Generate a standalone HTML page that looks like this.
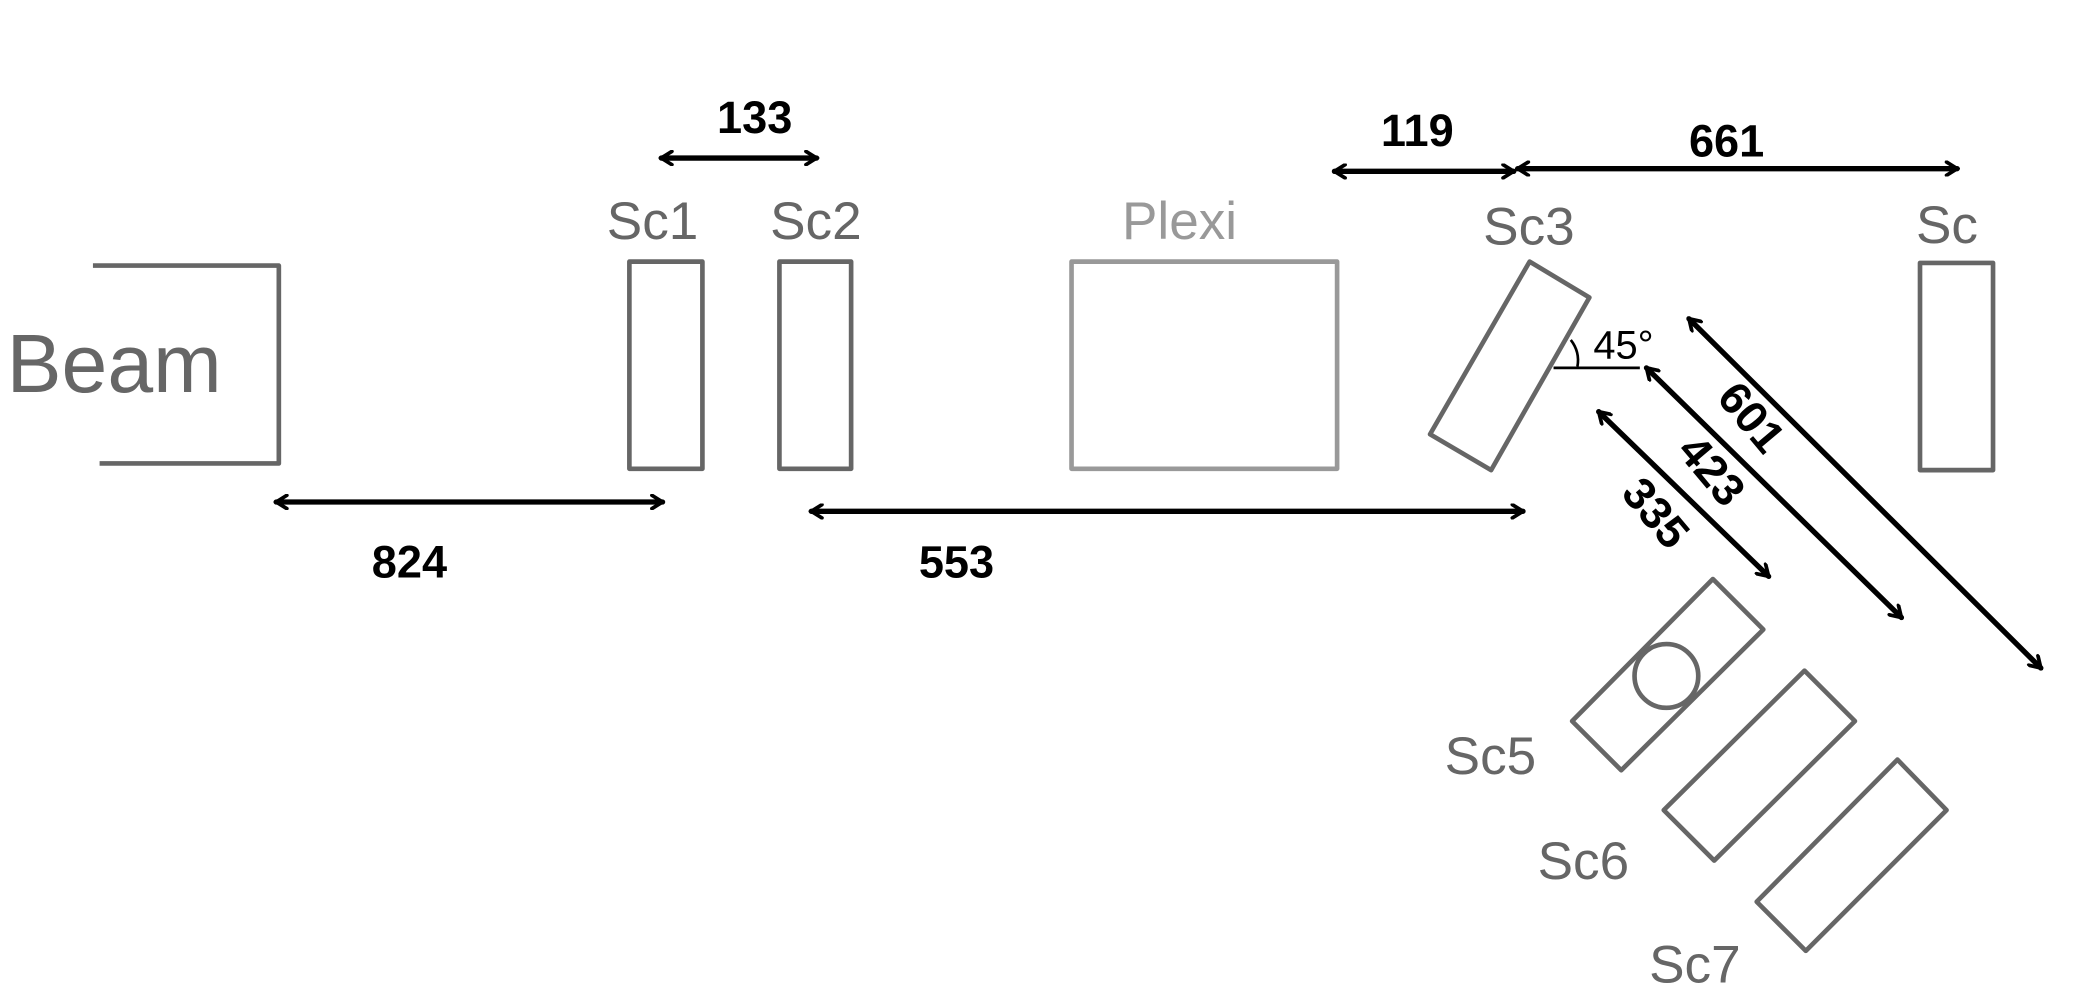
<!DOCTYPE html>
<html><head><meta charset="utf-8"><style>
html,body{margin:0;padding:0;background:#fff;}
svg{display:block;}
text{font-family:"Liberation Sans",sans-serif;}
.g{fill:none;stroke:#666;stroke-width:3.5;stroke-linejoin:round;}
.a{fill:none;stroke:#000;stroke-width:4;stroke-linecap:round;}
.lbl{fill:#666;font-size:40px;}
.num{fill:#000;font-size:34px;font-weight:bold;}
</style></head><body>
<svg width="2082" height="1000" viewBox="0 0 1568 753" preserveAspectRatio="none">
<defs>
<marker id="h" viewBox="0 0 12 12" refX="10" refY="6" markerWidth="12" markerHeight="12" markerUnits="userSpaceOnUse" orient="auto-start-reverse">
<path d="M2,1 L10,6 L2,11" fill="none" stroke="#000" stroke-width="2.8" stroke-linecap="round"/>
</marker>
</defs>
<g>
<polyline class="g" points="70,200 210,200 210,349 75,349"/>
<text x="5" y="295" style="fill:#666;font-size:62px;">Beam</text>
</g>
<g><rect class="g" x="474" y="197" width="55" height="156"/><text class="lbl" x="457" y="180">Sc1</text></g>
<g><rect class="g" x="587" y="197" width="54" height="156"/><text class="lbl" x="580" y="180">Sc2</text></g>
<g><rect class="g" style="stroke:#999" x="807" y="197" width="200" height="156"/><text class="lbl" style="fill:#999" x="845" y="180">Plexi</text></g>
<g><polygon class="g" points="1152,197 1197,224 1123,354 1077,327"/><text class="lbl" x="1117" y="184">Sc3</text></g>
<g><rect class="g" x="1446" y="198" width="55" height="156"/><text class="lbl" x="1443" y="183">Sc</text></g>
<g>
<line x1="1170" y1="277" x2="1235" y2="277" stroke="#000" stroke-width="2"/>
<path d="M1183,256 Q1190,265 1188,276" fill="none" stroke="#000" stroke-width="2"/>
<text x="1200" y="270" style="font-size:30px;fill:#000;">45°</text>
</g>
<g><polygon class="g" points="1184,543 1290,436 1328,474 1221,580"/><circle class="g" cx="1255" cy="509" r="24"/><text class="lbl" x="1088" y="583">Sc5</text></g>
<g><polygon class="g" points="1253,610 1359,505 1397,543 1291,648"/><text class="lbl" x="1158" y="662">Sc6</text></g>
<g><polygon class="g" points="1323,679 1429,572 1466,610 1360,716"/><text class="lbl" x="1242" y="740">Sc7</text></g>
<g><line class="a" x1="498" y1="119" x2="615" y2="119" marker-start="url(#h)" marker-end="url(#h)"/><text class="num" x="540" y="100">133</text></g>
<g><line class="a" x1="1005" y1="129" x2="1140" y2="129" marker-start="url(#h)" marker-end="url(#h)"/><text class="num" x="1040" y="110">119</text></g>
<g><line class="a" x1="1143" y1="127" x2="1474" y2="127" marker-start="url(#h)" marker-end="url(#h)"/><text class="num" x="1272" y="118">661</text></g>
<g><line class="a" x1="208" y1="378" x2="499" y2="378" marker-start="url(#h)" marker-end="url(#h)"/><text class="num" x="280" y="435">824</text></g>
<g><line class="a" x1="611" y1="385" x2="1147" y2="385" marker-start="url(#h)" marker-end="url(#h)"/><text class="num" x="692" y="435">553</text></g>
<g><line class="a" x1="1204" y1="310" x2="1332" y2="434" marker-start="url(#h)" marker-end="url(#h)"/><text class="num" transform="translate(1220,372) rotate(50)">335</text></g>
<g><line class="a" x1="1240" y1="277" x2="1432" y2="465" marker-start="url(#h)" marker-end="url(#h)"/><text class="num" transform="translate(1262,340) rotate(50)">423</text></g>
<g><line class="a" x1="1272" y1="240" x2="1537" y2="503" marker-start="url(#h)" marker-end="url(#h)"/><text class="num" transform="translate(1292,300) rotate(50)">601</text></g>
</svg>
</body></html>
